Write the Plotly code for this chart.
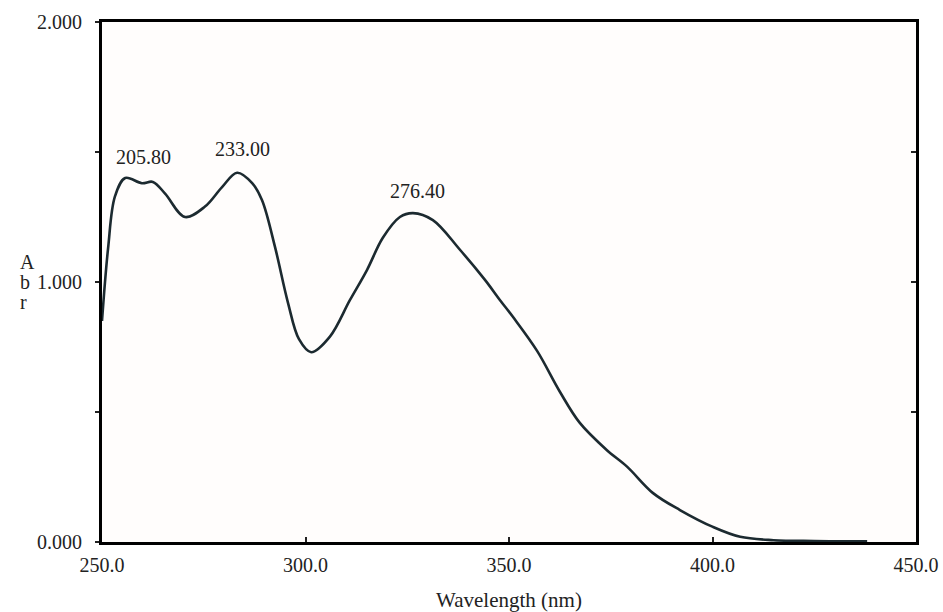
import plotly.graph_objects as go

wavelength = [250.0, 251.5, 253.2, 255.7, 259.8, 262.5, 265.5, 270.4, 275.3, 279.5,
              283.2, 286.9, 289.3, 292.5, 295.7, 298.4, 301.4, 306.0, 310.9, 315.1,
              319.0, 323.2, 326.4, 331.3, 338.0, 344.0, 347.8, 351.0, 356.9, 362.5,
              367.4, 374.0, 379.0, 385.4, 392.0, 400.1, 406.8, 415.0, 425.0, 438.0]
absorbance = [0.85, 1.13, 1.33, 1.40, 1.38, 1.385, 1.34, 1.25, 1.29, 1.365,
              1.42, 1.38, 1.315, 1.135, 0.92, 0.78, 0.73, 0.79, 0.93, 1.046,
              1.17, 1.25, 1.265, 1.238, 1.123, 1.01, 0.93, 0.865, 0.735, 0.578,
              0.458, 0.354, 0.29, 0.188, 0.123, 0.058, 0.02, 0.007, 0.004, 0.003]

peak_labels = ["205.80", "233.00", "276.40"]
peak_label_x = [260.1, 284.4, 327.5]
peak_label_y = [1.48, 1.51, 1.35]

x_tickvals = [250, 300, 350, 400, 450]
x_ticktext = ["250.0", "300.0", "350.0", "400.0", "450.0"]
y_tickvals = [0, 0.5, 1.0, 1.5, 2.0]
y_ticktext = ["0.000", "", "1.000", "", "2.000"]

font = "Liberation Serif"
fs = 20

fig = go.Figure()
fig.add_trace(go.Scatter(x=wavelength, y=absorbance, mode="lines",
                         line=dict(color="#1c2a30", width=2.6, shape="spline", smoothing=1.0),
                         hoverinfo="skip", showlegend=False))
# invisible trace to activate mirrored axes
fig.add_trace(go.Scatter(x=[wavelength[0]], y=[absorbance[0]], xaxis="x2", yaxis="y2",
                         mode="markers", marker=dict(opacity=0), showlegend=False, hoverinfo="skip"))

for t, xv, yv in zip(peak_labels, peak_label_x, peak_label_y):
    fig.add_annotation(x=xv, y=yv, text=t, showarrow=False,
                       font=dict(family=font, size=fs, color="#222"))

for letter, py in zip(["A", "b", "r"], [0.538, 0.5, 0.4615]):
    fig.add_annotation(x=-0.103, y=py, xref="paper", yref="paper", text=letter,
                       showarrow=False, font=dict(family=font, size=fs, color="#222"))

fig.update_layout(
    width=943, height=612,
    margin=dict(l=102, r=27, t=22, b=70, autoexpand=False),
    paper_bgcolor="white", plot_bgcolor="#fffdfc",
    font=dict(family=font, size=fs, color="#222"),
    xaxis=dict(range=[250, 450], tickvals=x_tickvals, ticktext=x_ticktext,
               ticks="inside", ticklen=5, tickwidth=1.5, tickcolor="#222",
               showline=True, linecolor="black", linewidth=3, showgrid=False, zeroline=False,
               ticklabelstandoff=3, automargin=False,
               title=dict(text="Wavelength (nm)", font=dict(family=font, size=21), standoff=26)),
    yaxis=dict(range=[0, 2], tickvals=y_tickvals, ticktext=y_ticktext,
               ticks="outside", ticklen=4, tickwidth=1.5, tickcolor="#222",
               showline=True, linecolor="black", linewidth=3, showgrid=False, zeroline=False,
               ticklabelstandoff=9, automargin=False),
    xaxis2=dict(range=[250, 450], overlaying="x", side="top", showticklabels=False,
                ticks="", showline=True, linecolor="black", linewidth=3, showgrid=False,
                zeroline=False),
    yaxis2=dict(range=[0, 2], overlaying="y", side="right", showticklabels=False,
                tickvals=[0.5, 1.0, 1.5], ticks="inside", ticklen=5, tickwidth=1.5,
                tickcolor="#222", showline=True, linecolor="black", linewidth=3,
                showgrid=False, zeroline=False),
)

fig.write_html("out.html", config={"displayModeBar": False},
               post_script="document.body.style.margin='0';document.body.style.overflow='hidden';")
